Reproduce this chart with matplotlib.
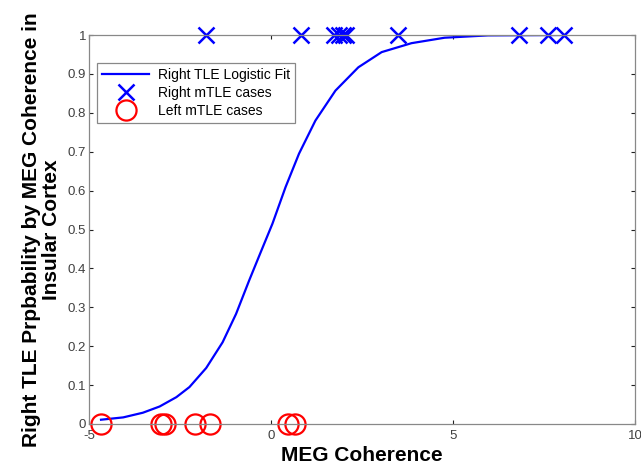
import matplotlib
matplotlib.use("Agg")
import matplotlib.pyplot as plt

plt.rcParams['font.family'] = ['Liberation Sans', 'DejaVu Sans']

# Logistic fit curve
fit_x = [-4.67, -4.06, -3.52, -3.06, -2.60, -2.24, -1.78, -1.33, -0.96, -0.60, -0.29,
         0.04, 0.40, 0.77, 1.22, 1.77, 2.40, 3.04, 3.86, 4.77, 5.96, 8.06]
fit_y = [0.011, 0.017, 0.029, 0.045, 0.069, 0.095, 0.144, 0.210, 0.283, 0.369, 0.44,
         0.515, 0.609, 0.695, 0.780, 0.857, 0.917, 0.956, 0.979, 0.993, 0.999, 1.0]

right_x = [-1.78, 0.82, 1.72, 1.86, 1.97, 2.05, 3.50, 6.80, 7.62, 8.06]
right_y = [1] * len(right_x)
left_x = [-4.67, -3.03, -2.90, -2.08, -1.67, 0.46, 0.66]
left_y = [0] * len(left_x)

xticks = [-5, 0, 5, 10]
yticks = [0, 0.1, 0.2, 0.3, 0.4, 0.5, 0.6, 0.7, 0.8, 0.9, 1]
ytick_labels = ['0', '0.1', '0.2', '0.3', '0.4', '0.5', '0.6', '0.7', '0.8', '0.9', '1']

fig = plt.figure(figsize=(6.41, 4.70), dpi=100)
ax = fig.add_axes([89/641, 1 - 424/470, (635 - 89)/641, (424 - 35)/470])

ax.plot(fit_x, fit_y, color='#0000ff', lw=1.6, label='Right TLE Logistic Fit')
ax.plot(right_x, right_y, 'x', color='#0000ff', ms=12, mew=1.8, clip_on=False,
        label='Right mTLE cases')
ax.plot(left_x, left_y, 'o', mfc='none', mec='#ff0000', ms=14.5, mew=1.6, clip_on=False,
        label='Left mTLE cases')

ax.set_xlim(-5, 10)
ax.set_ylim(0, 1)
ax.set_xticks(xticks)
ax.set_xticklabels([str(t) for t in xticks])
ax.set_yticks(yticks)
ax.set_yticklabels(ytick_labels)
ax.tick_params(direction='in', length=3, width=0.8, colors='#222222', labelsize=9.5,
               top=True, right=True, pad=2, labelcolor='#404040')
ax.tick_params(axis='x', pad=4)
for s in ax.spines.values():
    s.set_color('#888888')
    s.set_linewidth(0.9)

ax.set_xlabel('MEG Coherence', fontsize=15, fontweight='bold', labelpad=3)
ax.set_ylabel('Right TLE Prpbability by MEG Coherence in\nInsular Cortex', fontsize=15,
              fontweight='bold', labelpad=5, linespacing=1.05)

leg = ax.legend(loc='upper left', bbox_to_anchor=(0.0, 0.95), fontsize=10,
                fancybox=False, framealpha=1, edgecolor='#888888',
                handlelength=3.4, borderpad=0.35, labelspacing=0.3, handletextpad=0.6,
                borderaxespad=0.6)
leg.get_frame().set_linewidth(0.9)

fig.savefig('out.png', dpi=100)
